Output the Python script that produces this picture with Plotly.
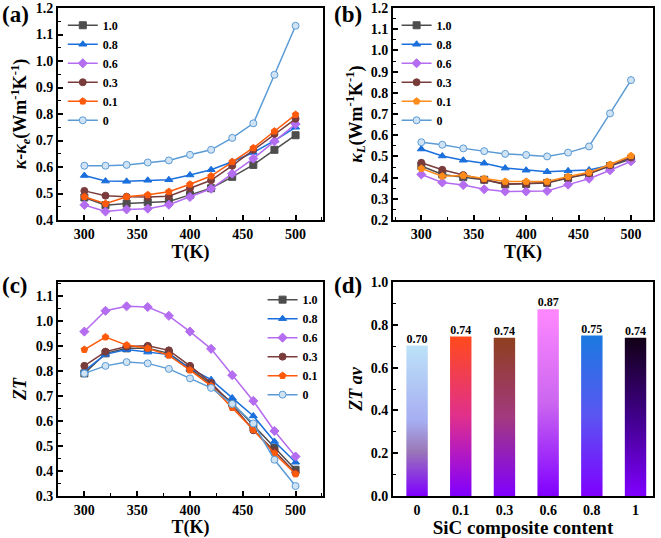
import plotly.graph_objects as go

# ---------------- data ----------------
T = [300, 320, 340, 360, 380, 400, 420, 440, 460, 480, 500]
series_names = ['1.0', '0.8', '0.6', '0.3', '0.1', '0']

# (a) kappa - kappa_e
a_10 = [0.485, 0.456, 0.462, 0.467, 0.470, 0.495, 0.520, 0.563, 0.608, 0.665, 0.720]
a_08 = [0.568, 0.547, 0.546, 0.550, 0.552, 0.570, 0.590, 0.620, 0.655, 0.700, 0.750]
a_06 = [0.457, 0.432, 0.440, 0.443, 0.458, 0.487, 0.518, 0.575, 0.632, 0.697, 0.762]
a_03 = [0.510, 0.492, 0.488, 0.487, 0.490, 0.520, 0.550, 0.605, 0.665, 0.725, 0.782]
a_01 = [0.488, 0.462, 0.488, 0.495, 0.507, 0.535, 0.566, 0.620, 0.672, 0.735, 0.798]
a_00 = [0.605, 0.605, 0.608, 0.617, 0.625, 0.646, 0.665, 0.710, 0.765, 0.948, 1.133]

# (b) kappa_L
b_10 = [0.455, 0.415, 0.402, 0.390, 0.368, 0.370, 0.375, 0.398, 0.418, 0.455, 0.488]
b_08 = [0.535, 0.502, 0.482, 0.468, 0.445, 0.435, 0.428, 0.432, 0.436, 0.458, 0.495]
b_06 = [0.415, 0.377, 0.365, 0.345, 0.335, 0.335, 0.337, 0.367, 0.395, 0.435, 0.477]
b_03 = [0.470, 0.437, 0.412, 0.390, 0.370, 0.372, 0.377, 0.400, 0.420, 0.458, 0.495]
b_01 = [0.443, 0.407, 0.410, 0.395, 0.382, 0.382, 0.382, 0.405, 0.425, 0.462, 0.503]
b_00 = [0.567, 0.555, 0.538, 0.525, 0.512, 0.507, 0.500, 0.518, 0.547, 0.703, 0.860]

# (c) ZT
c_10 = [0.790, 0.870, 0.890, 0.890, 0.870, 0.810, 0.745, 0.672, 0.583, 0.492, 0.405]
c_08 = [0.800, 0.866, 0.885, 0.875, 0.865, 0.810, 0.765, 0.692, 0.620, 0.518, 0.435]
c_06 = [0.957, 1.040, 1.058, 1.055, 1.020, 0.957, 0.888, 0.783, 0.680, 0.560, 0.458]
c_03 = [0.820, 0.877, 0.897, 0.900, 0.882, 0.820, 0.752, 0.665, 0.563, 0.480, 0.392]
c_01 = [0.885, 0.935, 0.903, 0.890, 0.862, 0.803, 0.740, 0.653, 0.565, 0.470, 0.388]
c_00 = [0.790, 0.820, 0.835, 0.830, 0.808, 0.770, 0.732, 0.668, 0.590, 0.445, 0.340]

# (d) ZT average
d_cats = ['0', '0.1', '0.3', '0.6', '0.8', '1']
d_zt = [0.703, 0.745, 0.740, 0.873, 0.750, 0.740]
d_text = ['0.70', '0.74', '0.74', '0.87', '0.75', '0.74']

# ---------------- styles ----------------
FONT = 'Liberation Serif'
line_colors = ['#4d4d4d', '#1a6fdc', '#b46cf0', '#7a3b3b', '#ff5a0a', '#5b9bd5']
b_line_colors = ['#4d4d4d', '#1a6fdc', '#b46cf0', '#7a3b3b', '#ff8c1a', '#5b9bd5']
symbols = ['square', 'triangle-up', 'diamond', 'circle', 'pentagon', 'circle']
fills = ['#4d4d4d', '#1a6fdc', '#b46cf0', '#7a3b3b', '#ff5a0a', '#cfe3f5']
b_fills = ['#4d4d4d', '#1a6fdc', '#b46cf0', '#7a3b3b', '#ff8c1a', '#cfe3f5']

bar_scales = [
    [[0, '#7f00ff'], [0.3, '#9a78b8'], [0.5, '#a6aef2'], [1, '#bde2f8']],
    [[0, '#8000ff'], [0.5, '#e0308c'], [1, '#ff4a1c']],
    [[0, '#8000ff'], [0.5, '#a3397e'], [1, '#8e3f1e']],
    [[0, '#8000ff'], [0.5, '#cc66f0'], [1, '#ff88ff']],
    [[0, '#8000ff'], [0.5, '#5a55f2'], [1, '#1a7ae0']],
    [[0, '#8000ff'], [0.5, '#40008a'], [1, '#120016']],
]

fig = go.Figure()

panels = [
    ('x', 'y', 'legend', [a_10, a_08, a_06, a_03, a_01, a_00], line_colors, fills),
    ('x2', 'y2', 'legend2', [b_10, b_08, b_06, b_03, b_01, b_00], b_line_colors, b_fills),
    ('x3', 'y3', 'legend3', [c_10, c_08, c_06, c_03, c_01, c_00], line_colors, fills),
]
for xa, ya, lg, data, lcs, fcs in panels:
    for name, ys, lc, fc, sym in zip(series_names, data, lcs, fcs, symbols):
        fig.add_trace(go.Scatter(
            x=T, y=ys, name=name, mode='lines+markers',
            xaxis=xa, yaxis=ya, legend=lg,
            line=dict(color=lc, width=1.5),
            marker=dict(symbol=sym, size=7, color=fc, line=dict(color=lc, width=1)),
        ))

bw = 0.245
for i, (v, cs) in enumerate(zip(d_zt, bar_scales)):
    fig.add_trace(go.Scatter(
        x=[i - bw, i + bw, i + bw, i - bw, i - bw], y=[0, 0, v, v, 0],
        mode='lines', fill='toself', line=dict(width=0),
        fillgradient=dict(type='vertical', colorscale=cs),
        xaxis='x4', yaxis='y4', showlegend=False, hoverinfo='skip',
    ))
fig.add_trace(go.Scatter(
    x=list(range(len(d_cats))), y=d_zt, text=d_text, mode='text',
    textposition='top center', textfont=dict(family=FONT, size=12, color='black', weight='bold'),
    xaxis='x4', yaxis='y4', showlegend=False, cliponaxis=False,
))

tickfont = dict(family=FONT, size=14, color='black', weight='bold')
titlefont = dict(family=FONT, size=18, color='black', weight='bold')


def ax(domain, anchor, rng, dtick, mdtick, title, fmt=None, **kw):
    d = dict(domain=domain, anchor=anchor, range=rng, dtick=dtick, tick0=0,
             ticks='inside', ticklen=5, tickwidth=1.5, tickcolor='black',
             minor=dict(ticks='inside', ticklen=3, dtick=mdtick, tickcolor='black', tickwidth=1),
             showline=True, linecolor='black', linewidth=1.8, mirror=True,
             showgrid=False, zeroline=False, tickfont=tickfont, automargin=False,
             ticklabeloverflow='allow',
             title=dict(text=title, font=titlefont, standoff=4))
    if fmt:
        d['tickformat'] = fmt
    d.update(kw)
    return d


xa_dom = [0.0877, 0.4887]
xb_dom = [0.5946, 0.9879]
yt_dom = [0.591, 0.9851]
yb_dom = [0.078, 0.4758]

fig.update_layout(
    width=661, height=538,
    margin=dict(l=0, r=0, t=0, b=0),
    paper_bgcolor='white', plot_bgcolor='white',
    xaxis=ax(xa_dom, 'y', [275, 526], 50, 25, 'T(K)'),
    yaxis=ax(yt_dom, 'x', [0.4, 1.2], 0.1, 0.05,
             '<i>κ</i>-<i>κ<sub>e</sub></i>(Wm<sup>-1</sup>K<sup>-1</sup>)', '.1f'),
    xaxis2=ax(xb_dom, 'y2', [273, 521], 50, 25, 'T(K)'),
    yaxis2=ax(yt_dom, 'x2', [0.2, 1.2], 0.1, 0.05,
              '<i>κ<sub>L</sub></i>(Wm<sup>-1</sup>K<sup>-1</sup>)', '.1f'),
    xaxis3=ax(xa_dom, 'y3', [275, 526], 50, 25, 'T(K)'),
    yaxis3=ax(yb_dom, 'x3', [0.3, 1.155], 0.1, 0.05, '<i>ZT</i>', '.1f'),
    xaxis4=dict(domain=xb_dom, anchor='y4', range=[-0.55, 5.4],
                tickvals=list(range(len(d_cats))), ticktext=d_cats, ticks='',
                showline=True, linecolor='black', linewidth=1.8, mirror=True,
                showgrid=False, zeroline=False, tickfont=tickfont, automargin=False,
                ticklabeloverflow='allow',
                title=dict(text='SiC composite content', font=dict(family=FONT, size=19, color='black', weight='bold'), standoff=4)),
    yaxis4=ax(yb_dom, 'x4', [0, 1.0], 0.2, 0.1, '<i>ZT</i> <i>av</i>', '.1f'),
    legend=dict(x=0.095, y=0.98, xanchor='left', yanchor='top', bgcolor='rgba(0,0,0,0)',
                font=dict(family=FONT, size=12, color='black', weight='bold'),
                itemwidth=30, tracegroupgap=0),
    legend2=dict(x=0.60, y=0.98, xanchor='left', yanchor='top', bgcolor='rgba(0,0,0,0)',
                 font=dict(family=FONT, size=12, color='black', weight='bold'),
                 itemwidth=30, tracegroupgap=0),
    legend3=dict(x=0.488, y=0.47, xanchor='right', yanchor='top', bgcolor='rgba(0,0,0,0)',
                 font=dict(family=FONT, size=12, color='black', weight='bold'),
                 itemwidth=30, tracegroupgap=0),
    showlegend=True,
)

panel_font = dict(family=FONT, size=23, color='black', weight='bold')
for txt, x, y in [('(a)', 0.0, 1.0), ('(b)', 0.503, 1.0), ('(c)', 0.0, 0.497), ('(d)', 0.503, 0.497)]:
    fig.add_annotation(text=txt, x=x, y=y, xref='paper', yref='paper',
                       xanchor='left', yanchor='top', showarrow=False, font=panel_font)

fig.write_html(
    'out.html',
    config={'displayModeBar': False},
    post_script="document.body.style.margin='0px';document.body.style.overflow='hidden';",
)
